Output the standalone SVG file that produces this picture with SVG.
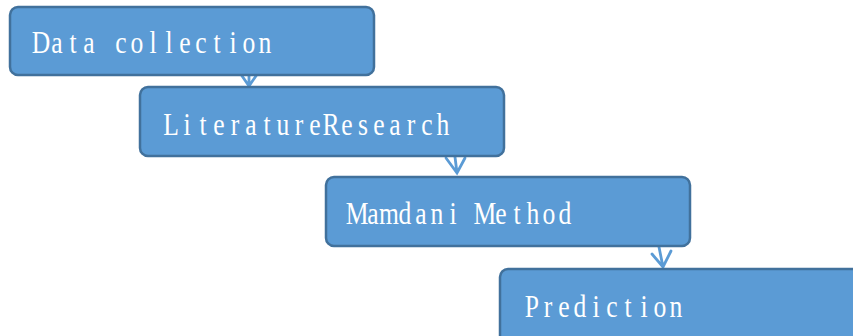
<svg xmlns="http://www.w3.org/2000/svg" width="853" height="336" viewBox="0 0 853 336">
<defs>
<style>
.box{fill:#5B9BD5;stroke:#41719C;stroke-width:2.5}
.lbl{fill:#FFFFFF;font-family:"Liberation Serif","DejaVu Serif",serif;font-size:32px;text-anchor:middle}
.con{fill:none;stroke:#5B9BD5;stroke-width:2.8;stroke-linecap:round;stroke-linejoin:miter}
</style>
</defs>
<rect width="853" height="336" fill="#FFFFFF"/>
<g id="connectors">
<path class="con" d="M249 76 L249 86 M240 73 L249 86 L258 73"/>
<path class="con" d="M455 157 L457 173 M446 158 L457 173 L465 158"/>
<path class="con" d="M659 247 L663 267 M652 254 L663 267 L671 251"/>
</g>
<g id="n1">
<rect class="box" x="10" y="7" width="364" height="68" rx="8"/>
<text class="lbl" transform="translate(33,53) scale(0.8,1)" x="10 30 50 70 90 110 130 150 170 190 210 230 250 270 290" y="0">Data collection</text>
</g>
<g id="n2">
<rect class="box" x="140" y="87" width="364" height="69" rx="8"/>
<text class="lbl" transform="translate(163,135) scale(0.8,1)" x="10 30 50 70 90 110 130 150 170 190 210 230 250 270 290 310 330 350" y="0">LiteratureResearch</text>
</g>
<g id="n3">
<rect class="box" x="326" y="177" width="364" height="69" rx="8"/>
<text class="lbl" transform="translate(349,223.5) scale(0.8,1)" x="10 30 50 70 90 110 130 150 170 190 210 230 250 270" y="0">Mamdani Method</text>
</g>
<g id="n4">
<rect class="box" x="500" y="269" width="364" height="80" rx="8"/>
<text class="lbl" transform="translate(524,316.5) scale(0.8,1)" x="10 30 50 70 90 110 130 150 170 190" y="0">Prediction</text>
</g>
</svg>
